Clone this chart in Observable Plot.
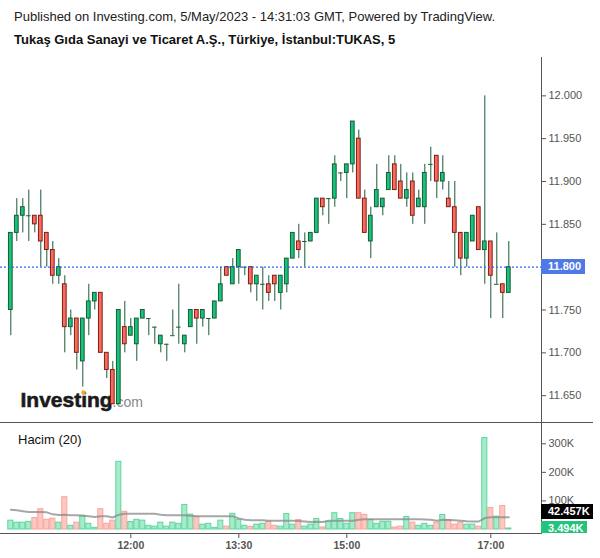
<!DOCTYPE html>
<html><head><meta charset="utf-8">
<script src="https://cdn.jsdelivr.net/npm/d3@7"></script>
<script src="https://cdn.jsdelivr.net/npm/@observablehq/plot@0.6"></script>
<style>
body{margin:0;background:#fff;font-family:"Liberation Sans",Arial,sans-serif;}
#wrap{position:relative;width:600px;height:558px;overflow:hidden;background:#fff;}
.abs{position:absolute;white-space:nowrap;}
.line{position:absolute;background:#555;}
.box{position:absolute;color:#fff;font-weight:bold;font-size:11px;line-height:15px;height:15px;padding:0 0 0 7px;box-sizing:border-box;}
</style></head><body><div id="wrap">
<div class="abs" style="left:14px;top:9px;font-size:13px;color:#222">Published on Investing.com, 5/May/2023 - 14:31:03 GMT, Powered by TradingView.</div>
<div class="abs" style="left:14px;top:32px;font-size:13px;font-weight:bold;color:#111">Tukaş Gıda Sanayi ve Ticaret A.Ş., Türkiye, İstanbul:TUKAS, 5</div>
<div id="p1" class="abs" style="left:0;top:58px"></div>
<div id="p2" class="abs" style="left:0;top:423px"></div>
<div class="abs" style="left:18px;top:432px;font-size:13px;color:#111">Hacim (20)</div>
<div class="line" style="left:541px;top:57px;width:1px;height:477px"></div>
<div class="line" style="left:0;top:422px;width:593px;height:1px"></div>
<div class="line" style="left:0;top:533px;width:542px;height:1px"></div>
</div>
<script>
// ---- data (5-minute candles, 5 May 2023) ----
const startTime = "10:20";
const stepMinutes = 5;
const open  = [11.75,11.84,11.86,11.86,11.86,11.86,11.84,11.82,11.79,11.78,11.73,11.74,11.69,11.74,11.76,11.77,11.70,11.68,11.64,11.73,11.72,11.71,11.74,11.74,11.73,11.71,11.71,11.72,11.73,11.71,11.73,11.75,11.74,11.74,11.74,11.76,11.80,11.78,11.80,11.80,11.80,11.78,11.78,11.78,11.79,11.77,11.78,11.81,11.83,11.83,11.83,11.84,11.88,11.88,11.88,11.91,11.91,11.92,11.95,11.88,11.83,11.87,11.87,11.89,11.92,11.90,11.88,11.90,11.87,11.87,11.92,11.93,11.90,11.88,11.87,11.84,11.81,11.83,11.87,11.82,11.83,11.78,11.78,11.77];
const high  = [11.84,11.88,11.88,11.89,11.86,11.89,11.84,11.83,11.81,11.79,11.75,11.74,11.74,11.78,11.77,11.77,11.70,11.69,11.75,11.76,11.74,11.74,11.75,11.74,11.73,11.72,11.71,11.75,11.78,11.72,11.75,11.75,11.75,11.74,11.76,11.80,11.80,11.81,11.82,11.80,11.80,11.79,11.80,11.79,11.79,11.79,11.81,11.84,11.85,11.84,11.84,11.88,11.88,11.88,11.93,11.91,11.92,11.97,11.96,11.89,11.87,11.92,11.88,11.93,11.93,11.92,11.91,11.91,11.89,11.92,11.94,11.93,11.93,11.90,11.90,11.84,11.84,11.86,11.87,12.00,11.83,11.84,11.78,11.83];
const low   = [11.72,11.83,11.84,11.83,11.84,11.80,11.80,11.78,11.78,11.70,11.72,11.68,11.66,11.72,11.75,11.70,11.67,11.64,11.64,11.70,11.72,11.69,11.74,11.72,11.71,11.70,11.69,11.72,11.71,11.70,11.73,11.71,11.73,11.72,11.74,11.76,11.79,11.78,11.78,11.79,11.77,11.76,11.75,11.76,11.76,11.75,11.77,11.81,11.81,11.80,11.83,11.84,11.86,11.85,11.87,11.90,11.88,11.91,11.88,11.84,11.81,11.87,11.86,11.89,11.89,11.88,11.87,11.85,11.87,11.85,11.90,11.88,11.89,11.87,11.80,11.79,11.80,11.83,11.82,11.78,11.74,11.78,11.74,11.77];
const close = [11.84,11.86,11.87,11.86,11.85,11.83,11.82,11.79,11.80,11.73,11.74,11.70,11.74,11.76,11.77,11.70,11.68,11.64,11.75,11.71,11.73,11.74,11.75,11.74,11.73,11.72,11.71,11.72,11.73,11.72,11.75,11.74,11.75,11.74,11.76,11.78,11.79,11.80,11.82,11.80,11.78,11.79,11.78,11.77,11.78,11.79,11.81,11.84,11.82,11.83,11.84,11.88,11.87,11.88,11.92,11.91,11.92,11.97,11.88,11.84,11.86,11.89,11.88,11.91,11.89,11.88,11.89,11.86,11.88,11.91,11.92,11.90,11.91,11.87,11.84,11.81,11.84,11.86,11.82,11.83,11.79,11.78,11.77,11.80];
// volume in thousands
const volume = [31,24,24,27,40,71,34,38,24,113,13,24,48,20,6,71,20,31,237,62,26,34,31,13,10,24,10,24,20,86,52,44,17,20,6,31,10,55,34,13,9,17,20,27,13,10,54,17,33,10,17,37,7,27,57,37,20,57,57,51,33,20,27,27,7,10,44,24,13,20,13,24,51,33,17,24,17,17,10,320,75,45,82,3.494];
// volume moving average (20) in thousands
const volumeMA = [69,67,64,61,61,61,60,53,51,52,50,50,48,46,44,46,46,42,52,55,55,55,55,55,55,52,50,50,50,50,48,46,46,46,46,46,46,46,39,34,32,32,32,31,31,31,31,31,30,28,26,27,26,31,31,31,31,31,34,36,36,36,36,36,36,36,36,36,36,35,34,31,34,33,32,31,29,28,28,40,43,43,43,42.457];
const priceTicks = [11.65,11.70,11.75,11.80,11.85,11.90,11.95,12.00];
const volumeTicks = [100,200,300];
const xTickLabels = ["12:00","13:30","15:00","17:00"];
const lastPrice = 11.80;

// ---- build ----
const toMin = s => { const [h,m] = s.split(":").map(Number); return h*60+m; };
const candles = open.map((o,i)=>({k:i,open:o,high:high[i],low:low[i],close:close[i],vol:volume[i],ma:volumeMA[i],up:close[i]>=o}));
const bodies = candles.filter(d=>d.open!==d.close);
const dojis = candles.filter(d=>d.open===d.close);
const xTicks = xTickLabels.map(t => (toMin(t)-toMin(startTime))/stepMinutes);
const xDomain = [-1.717, 88.45];
const font = "Liberation Sans, Arial, sans-serif";
const WICK = "#1d5a38";

const p1 = Plot.plot({
  width:600, height:365, marginLeft:0, marginRight:59, marginTop:0, marginBottom:0,
  style:{background:"transparent", fontFamily:font, fontSize:"11px", color:"#555", overflow:"visible"},
  x:{domain:xDomain, axis:null},
  y:{domain:[11.6175,12.0436], axis:"right", ticks:priceTicks, tickFormat:d3.format(".3f"), tickSize:4, tickPadding:3, label:null},
  marks:[
    Plot.text(["Investing"], {frameAnchor:"top-left", dx:20, dy:348, text:d=>d, lineAnchor:"bottom", textAnchor:"start", fontSize:21, fontWeight:"bold", fill:"#1a1a1a", stroke:"#1a1a1a", strokeWidth:0.6}),
    Plot.text([".com"], {frameAnchor:"top-left", dx:112, dy:348, text:d=>d, lineAnchor:"bottom", textAnchor:"start", fontSize:14, fill:"#888"}),
    Plot.dot([0], {frameAnchor:"top-left", dx:83, dy:334, r:2.2, fill:"#f5a623", stroke:null}),
    Plot.ruleX(candles, {x:"k", y1:"low", y2:"high", stroke:WICK, strokeWidth:1}),
    Plot.rect(bodies, {x1:d=>d.k-0.31, x2:d=>d.k+0.31, y1:"open", y2:"close", fill:d=>d.up?"#15c37a":"#f96b5d", stroke:d=>d.up?"#1b5a37":"#7e1e15", strokeWidth:1, insetTop:0, insetBottom:0}),
    Plot.ruleY(dojis, {y:"open", x1:d=>d.k-0.38, x2:d=>d.k+0.38, stroke:WICK, strokeWidth:1}),
    Plot.ruleY([lastPrice], {y:d=>d, stroke:"#2f66f2", strokeOpacity:1, strokeDasharray:"2 2", strokeWidth:1.2})
  ]
});
document.getElementById("p1").appendChild(p1);

const p2 = Plot.plot({
  width:600, height:135, marginLeft:0, marginRight:59, marginTop:0, marginBottom:24,
  style:{background:"transparent", fontFamily:font, fontSize:"11px", color:"#555", overflow:"visible"},
  x:{domain:xDomain},
  y:{domain:[-17.5,371]},
  marks:[
    Plot.axisY({anchor:"right", ticks:volumeTicks, tickFormat:d=>d+"K", tickSize:4, tickPadding:3, label:null}),
    Plot.axisX({anchor:"bottom", ticks:xTicks, tickFormat:(d,i)=>xTickLabels[i], tickSize:4, tickPadding:3, label:null, fontWeight:"bold", fontSize:10.5}),
    Plot.rect(candles, {x1:d=>d.k-0.42, x2:d=>d.k+0.42, y1:0, y2:"vol", fill:d=>d.up?"#a7ecca":"#fdc7c2", stroke:d=>d.up?"#5bd69f":"#f7a49c", strokeWidth:1}),
    Plot.line(candles, {x:"k", y:"ma", stroke:"#8a8a8a", strokeOpacity:0.75, strokeWidth:2})
  ]
});
document.getElementById("p2").appendChild(p2);

// value labels on the right axis
const wrap = document.getElementById("wrap");
function addBox(text, bg, centerY, width, clipBottom){
  const d = document.createElement("div");
  d.className = "box";
  d.textContent = text;
  let top = centerY - 7.5, h = 15;
  if (clipBottom !== undefined && top + h > clipBottom) h = clipBottom - top;
  d.style.cssText += `left:541px;top:${top}px;width:${width}px;height:${h}px;background:${bg};overflow:hidden;`;
  wrap.appendChild(d);
}
const yP = 58 + p1.scale("y").apply(lastPrice);
addBox(d3.format(".3f")(lastPrice), "#5079e8", yP, 44);
const yv = v => 423 + p2.scale("y").apply(v);
const lastVol = volume[volume.length-1], lastMA = volumeMA[volumeMA.length-1];
const gy = yv(lastVol);
const by = Math.min(yv(lastMA), gy - 17);
addBox(d3.format(".3f")(lastMA)+"K", "#000", by, 52);
addBox(d3.format(".3f")(lastVol)+"K", "#22c47c", gy, 46, 533);
</script>
</body></html>
